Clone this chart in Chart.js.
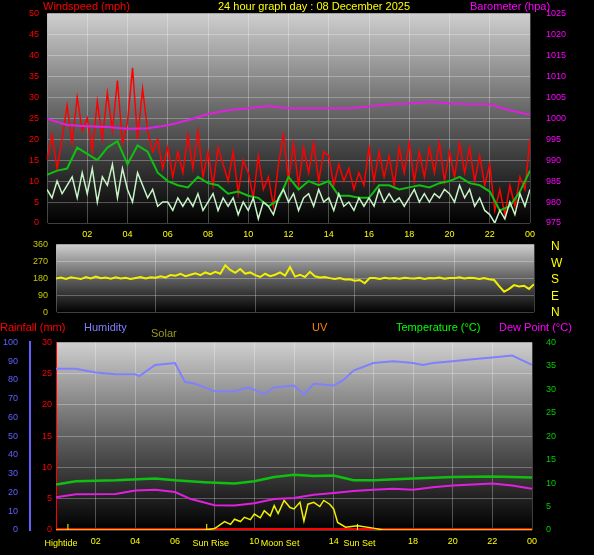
<!DOCTYPE html>
<html><head><meta charset="utf-8">
<script src="https://cdn.jsdelivr.net/npm/chart.js@4/dist/chart.umd.min.js"></script>
<style>
body{margin:0;background:#000;width:594px;height:555px;position:relative;overflow:hidden;font-family:"Liberation Sans",Arial,sans-serif}
.c{position:absolute;left:0;width:594px}
.t{position:absolute;font-size:11px;white-space:nowrap;line-height:12px}
</style></head><body>
<div class="c" style="top:0;height:245px"><canvas id="wind"></canvas></div>
<div class="c" style="top:231px;height:95px"><canvas id="dir"></canvas></div>
<div class="c" style="top:331px;height:224px"><canvas id="temp"></canvas></div>

<div class="t" style="left:43px;top:0;color:#f00">Windspeed (mph)</div>
<div class="t" style="left:218px;top:0;color:#ff0">24 hour graph day : 08 December 2025</div>
<div class="t" style="left:470px;top:0;color:#f0f">Barometer (hpa)</div>
<div class="t" style="left:551px;top:238px;color:#ff0;line-height:16.5px;font-size:12px">N<br>W<br>S<br>E<br>N</div>
<div class="t" style="left:0;top:321px;color:#f00">Rainfall (mm)</div>
<div class="t" style="left:84px;top:321px;color:#8080ff">Humidity</div>
<div class="t" style="left:151px;top:327px;color:#9a9a20">Solar</div>
<div class="t" style="left:312px;top:321px;color:#ff8000">UV</div>
<div class="t" style="left:396px;top:321px;color:#0f0">Temperature (°C)</div>
<div class="t" style="left:499px;top:321px;color:#f0f">Dew Point (°C)</div>

<script>
// wind, 15 minute samples
const gust = [15,21,13,20, 28,19,30,22, 25,17,29,20, 31,22,34,19, 24,37,20,32, 22,17,20,13,
  18,11,17,12, 21,13,22,11, 17,9,18,14, 10,17,7,15, 12,6,16,8, 11,4,14,21,
  10,19,9,18, 12,19,10,17, 16,9,14,10, 13,8,12,9, 18,10,17,11, 16,9,18,12,
  19,10,17,11, 18,12,19,10, 17,11,19,12, 18,10,16,9, 14,3,8,2, 9,4,11,8, 20];
const windAvg = [8,6,10,7, 9,11,6,12, 7,13,5,11, 9,14,6,13, 8,5,12,9, 6,8,4,5,
  5,3,6,4, 6,4,7,3, 5,7,3,6, 4,6,2,5, 3,6,1,5, 4,2,6,8,
  5,7,3,6, 7,4,8,5, 6,3,7,4, 5,3,6,4, 6,4,8,5, 7,5,6,4,
  6,8,5,7, 5,7,6,8, 7,5,9,6, 8,4,6,3, 2,0,3,1, 5,2,7,4, 8];
// smoothed average, 30 minute samples
const windSmooth = [11.5,12.5,13,18,16.5,15,18,19.5,14,18.5,17,12,10,9,8.5,11,9.5,9,7,7.5,6.5,6,4,5.5,
  11,8,10,9,10,6.5,6.5,6,6,9,9,8,8.5,9,8.5,9.5,10,11,9.5,9,7.5,3,4,7.5,12.5];
// hourly
const baro = [999.9,998.4,998.1,997.9,997.5,997.6,998.3,999.5,1001,1001.9,1002.4,1002.9,1002.4,
  1002.4,1002.4,1002.4,1002.8,1003.3,1003.5,1003.9,1003.5,1003.3,1003.3,1001.9,1000.8];
// direction, 15 minute samples
const windDir = [180,185,178,186, 182,177,188,180, 190,181,185,179, 186,180,184,178, 183,188,180,186,
  184,192,186,198, 195,205,192,200, 208,198,212,203, 215,205,250,225, 210,230,205,212,
  198,188,205,192, 200,212,195,240, 190,200,188,215, 192,185,188,182, 178,182,175,176,
  168,172,155,182, 182,178,184,180, 182,179,184,181, 180,184,178,182, 181,185,179,183,
  182,186,180,184, 183,178,182,176, 172,140,110,125, 145,138,142,125, 150];
// temperature panel, [hour, value]
const humidity = [[0,86],[1,86],[2,84],[3,83],[4,83],[4.2,82],[5,88],[6,89],[6.5,79],[7,78],[8,74],[9,74],
  [9.7,76],[10.5,72.5],[11,76],[12,77],[12.5,72],[13,78],[14,77],[14.5,80],[15,85],[16,89],[17,90],
  [18,89],[18.5,88],[19,89],[20,90],[21,91],[22,92],[23,93],[24,88]];
const temperature = [[0,9.7],[1,10.4],[3,10.6],[5,11],[6,10.6],[7.5,10.2],[9,9.9],[10,10.4],[11,11.3],
  [12,11.8],[13,11.5],[14,11.6],[15,10.6],[16,10.6],[18,11],[20,11.3],[22,11.4],[24,11.2]];
const dewPoint = [[0,7],[1,7.6],[3,7.7],[4,8.4],[5,8.6],[6,8.1],[6.8,6.6],[8,5.3],[9,5.2],[10,5.7],[11,6.6],
  [12,6.8],[13,7.5],[14,7.9],[15,8.3],[16,8.6],[17,8.8],[18,8.6],[19,9.1],[20,9.5],[22,9.9],[23,9.5],[24,8.8]];
const solar = [[0,0],[7.5,0],[8,0.3],[8.5,1.8],[8.8,1.2],[9,2.3],[9.3,1.8],[9.5,2.7],[9.8,2.2],[10,3.4],[10.3,2.6],
  [10.5,4.1],[10.8,3],[11,5.2],[11.2,3.5],[11.5,6.3],[11.8,4.8],[12,4.5],[12.3,5.9],[12.5,1.9],[12.7,5.5],
  [13,5.9],[13.3,5],[13.5,6.3],[13.8,5.5],[14,4.5],[14.2,1.6],[14.6,0.6],[15.2,0.9],[16,0.4],[16.5,0],[24,0]];
const rain = [[0,0],[24,0]];
const uv = [[0,0],[24,0]];
const events = [['Hightide',0.25,0.6],['Sun Rise',7.8,7.6],['Moon Set',11.3,null],['Sun Set',15.3,15.2]];

const pts = arr => arr.map(p => ({x: p[0], y: p[1]}));
const hh = v => String(v % 24).padStart(2, '0');
const tick = {color: '#ff0', font: {size: 9, family: 'Liberation Sans'}};
const grid = {color: 'rgba(255,255,255,0.28)', borderDash: [1, 2], drawTicks: false};

const bg = {
  id: 'bg',
  beforeDraw(chart) {
    const {ctx, chartArea: a} = chart;
    const g = ctx.createLinearGradient(0, a.top, 0, a.bottom);
    g.addColorStop(0, '#cfcfcf');
    g.addColorStop(0.45, '#6a6a6a');
    g.addColorStop(1, '#000');
    ctx.fillStyle = g;
    ctx.fillRect(a.left, a.top, a.right - a.left, a.bottom - a.top);
  }
};
const w = n => s => { s.width = n; };
const line = (data, color, axis, width) => ({data, borderColor: color, yAxisID: axis, borderWidth: width || 1.5,
  pointRadius: 0, tension: 0, fill: false});
const base = pad => ({responsive: true, maintainAspectRatio: false, animation: false,
  layout: {padding: pad}, plugins: {legend: {display: false}, tooltip: {enabled: false}}});

new Chart(document.getElementById('wind'), {
  type: 'line',
  data: {datasets: [
    line(baro.map((v, i) => ({x: i, y: v})), '#e020e0', 'yb', 2),
    line(windAvg.map((v, i) => ({x: i / 4, y: v})), '#c8f5c8', 'y', 1.5),
    line(windSmooth.map((v, i) => ({x: i / 2, y: v})), '#10c010', 'y', 2),
    line(gust.map((v, i) => ({x: i / 4, y: v})), '#ff0000', 'y', 1.5)
  ]},
  plugins: [bg],
  options: {...base({top: 11}),
    scales: {
      x: {type: 'linear', min: 0, max: 24, afterFit: s => { s.height = 22; },
        ticks: {...tick, stepSize: 2, padding: 6, callback: v => v > 0 && v % 2 === 0 ? hh(v) : ''}, grid},
      y: {min: 0, max: 50, afterFit: w(47), ticks: {...tick, color: '#f00', stepSize: 5, padding: 8}, grid},
      yb: {position: 'right', min: 975, max: 1025, afterFit: w(64),
        ticks: {...tick, color: '#f0f', stepSize: 5, padding: 8, callback: v => String(v)}, grid: {display: false}}
    }
  }
});

new Chart(document.getElementById('dir'), {
  type: 'line',
  data: {datasets: [line(windDir.map((v, i) => ({x: i / 4, y: v})), '#f0f000', 'y', 2)]},
  plugins: [bg],
  options: {...base({top: 6, bottom: 6}),
    scales: {
      x: {type: 'linear', min: 0, max: 24, display: true, ticks: {display: false}, grid,
        afterFit: s => { s.height = 0; }},
      y: {min: 0, max: 360, afterFit: w(56), ticks: {...tick, color: '#c8c800', stepSize: 90, padding: 8}, grid},
      yr: {position: 'right', min: 0, max: 360, afterFit: w(60), ticks: {display: false}, grid: {display: false}}
    }
  }
});

const evPlugin = {
  id: 'ev',
  afterDatasetsDraw(chart) {
    const {ctx, scales: {x, t}} = chart;
    ctx.save();
    ctx.font = '9px Liberation Sans';
    ctx.textAlign = 'center';
    events.forEach(([name, lx, line]) => {
      ctx.fillStyle = '#ff0';
      ctx.fillText(name, x.getPixelForValue(lx), chart.chartArea.bottom + 16);
      if (line !== null) {
        ctx.strokeStyle = '#ff0';
        ctx.lineWidth = 1;
        ctx.beginPath();
        ctx.moveTo(x.getPixelForValue(line), t.getPixelForValue(0));
        ctx.lineTo(x.getPixelForValue(line), t.getPixelForValue(1.3));
        ctx.stroke();
      }
    });
    ctx.restore();
  }
};

new Chart(document.getElementById('temp'), {
  type: 'line',
  data: {datasets: [
    line(pts(humidity), '#8080ff', 'h', 2),
    line(pts(temperature), '#10c010', 't', 2.5),
    line(pts(dewPoint), '#e020e0', 't', 2),
    line(pts(solar), '#f0f000', 't', 1.5),
    line(pts(rain), '#ff0000', 'rn', 4),
    line(pts(uv), '#ff9000', 't', 2)
  ]},
  plugins: [bg, evPlugin],
  options: {...base({top: 6}),
    scales: {
      x: {type: 'linear', min: 0, max: 24, afterFit: s => { s.height = 25; },
        ticks: {...tick, stepSize: 2, padding: 6,
          callback: v => v > 0 && v % 2 === 0 && ![8, 12, 16].includes(v) ? hh(v) : ''}, grid},
      rn: {position: 'left', min: 0, max: 30, afterFit: w(26), border: {color: '#f00', width: 1},
        ticks: {...tick, color: '#f00', stepSize: 5, padding: 4}, grid},
      h: {position: 'left', min: 0, max: 100, afterFit: w(30), border: {color: '#6060ff', width: 2},
        ticks: {...tick, color: '#6060ff', stepSize: 10, padding: 4}, grid: {display: false}},
      t: {position: 'right', min: 0, max: 40, afterFit: w(62),
        ticks: {...tick, color: '#0c0', stepSize: 5, padding: 6}, grid: {display: false}}
    }
  }
});
</script>
</body></html>
